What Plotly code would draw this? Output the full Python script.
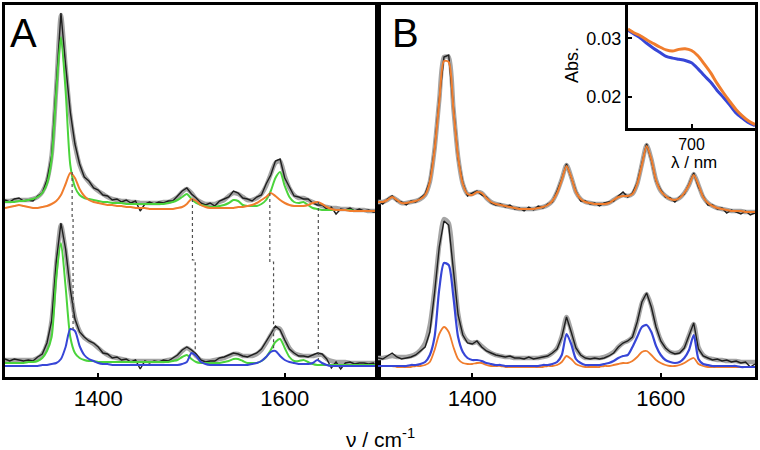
import plotly.graph_objects as go

# ---------------- data ----------------
# Raman shift grid (cm^-1), both panels
wavenumber = list(range(1300, 1701, 5))

# Panel A, upper spectrum (intensity in arbitrary units, offset stack)
a_top_fit = [176, 176, 177, 177, 177, 177, 178, 180, 185, 196,
             222, 290, 362, 310, 262, 232, 212, 201, 195, 190,
             186, 183, 180, 178, 177, 176, 176, 175, 175, 174,
             174, 174, 174, 174, 175, 175, 177, 180, 185, 188,
             184, 178, 175, 173, 173, 173, 175, 177, 181, 184,
             183, 180, 177, 177, 179, 183, 191, 203, 214, 216,
             201, 189, 182, 179, 179, 177, 175, 173, 171, 170,
             169, 169, 168, 168, 168, 167, 167, 167, 166, 166,
             166]
a_top_exp = [177, 175, 178, 179, 176, 177, 176, 181, 184, 197,
             221, 292, 364, 312, 265, 233, 213, 200, 196, 189,
             187, 182, 181, 177, 178, 175, 177, 174, 176, 166,
             173, 175, 173, 175, 174, 176, 176, 181, 186, 189,
             183, 179, 174, 172, 174, 171, 176, 178, 180, 186,
             184, 179, 178, 176, 180, 182, 193, 202, 216, 218,
             199, 190, 181, 180, 178, 178, 174, 172, 172, 168,
             170, 163, 168, 167, 169, 166, 168, 166, 167, 165,
             165]
a_top_green = [175, 175, 175, 176, 176, 177, 178, 180, 184, 193,
               218, 285, 340, 286, 212, 190, 182, 179, 178, 177,
               176, 175, 175, 174, 174, 174, 173, 173, 173, 173,
               173, 173, 173, 173, 173, 174, 175, 177, 180, 183,
               178, 174, 172, 171, 170, 170, 171, 172, 174, 177,
               176, 172, 171, 171, 171, 173, 177, 186, 199, 205,
               191, 180, 175, 174, 175, 172, 169, 168, 167, 167,
               167, 167, 167, 167, 167, 166, 166, 166, 166, 166,
               166]
a_top_orange = [169, 170, 171, 172, 171, 170, 169, 169, 170, 171,
                173, 176, 182, 193, 204, 199, 188, 181, 177, 175,
                174, 173, 172, 172, 171, 171, 170, 170, 169, 169,
                169, 168, 168, 168, 168, 168, 168, 169, 170, 173,
                178, 176, 172, 170, 169, 169, 169, 169, 169, 169,
                170, 170, 171, 172, 174, 177, 180, 184, 181, 177,
                174, 172, 171, 171, 171, 172, 174, 175, 173, 170,
                168, 167, 167, 167, 166, 166, 166, 166, 166, 166,
                166]

# Panel A, lower spectrum
a_bot_fit = [17, 17, 17, 17, 17, 17, 17, 19, 23, 33,
             57, 113, 152, 126, 88, 60, 46, 39, 36, 33,
             29, 25, 22, 20, 19, 18, 17, 16, 16, 16,
             16, 16, 16, 16, 16, 17, 18, 21, 26, 29,
             26, 21, 17, 16, 16, 17, 18, 19, 21, 23,
             23, 21, 21, 21, 23, 27, 34, 42, 49, 48,
             38, 29, 24, 22, 21, 21, 21, 22, 22, 18,
             16, 15, 15, 15, 14, 14, 14, 14, 14, 14,
             14]
a_bot_exp = [18, 16, 18, 17, 16, 17, 16, 20, 23, 34,
             56, 116, 154, 128, 88, 58, 45, 40, 36, 34,
             30, 24, 23, 19, 20, 17, 18, 15, 17, 8,
             16, 14, 16, 15, 17, 16, 19, 22, 27, 30,
             27, 23, 17, 15, 16, 16, 19, 20, 22, 24,
             23, 21, 20, 22, 24, 28, 35, 43, 51, 47,
             37, 28, 24, 21, 21, 20, 22, 24, 23, 18,
             9, 15, 8, 14, 15, 13, 14, 14, 13, 14,
             8]
a_bot_green = [14, 14, 14, 14, 14, 15, 15, 16, 19, 26,
               40, 100, 134, 90, 40, 24, 19, 17, 16, 16,
               15, 15, 15, 15, 15, 15, 15, 15, 15, 15,
               15, 15, 15, 15, 15, 15, 16, 17, 20, 22,
               18, 15, 14, 14, 14, 14, 14, 15, 16, 18,
               18, 16, 14, 14, 14, 16, 20, 27, 35, 38,
               29, 20, 16, 16, 17, 15, 13, 12, 12, 12,
               12, 12, 12, 12, 12, 12, 12, 12, 12, 12,
               12]
a_bot_blue = [11, 11, 11, 11, 11, 11, 11, 11, 12, 12,
              13, 14, 18, 30, 48, 46, 31, 22, 18, 16,
              14, 13, 13, 12, 12, 12, 12, 12, 12, 12,
              12, 12, 12, 12, 12, 12, 12, 12, 13, 15,
              24, 21, 15, 13, 12, 12, 12, 12, 12, 12,
              12, 12, 12, 13, 14, 16, 20, 25, 26, 21,
              17, 15, 14, 13, 13, 13, 14, 17, 14, 12,
              11, 11, 11, 11, 11, 11, 11, 11, 11, 11,
              11]

# Panel A, dotted correlation lines (band positions, upper -> lower)
link_top_nu = [1372, 1501, 1584, 1636]
link_bot_nu = [1373, 1504, 1588, 1636]
link_top_val = [205, 178, 184, 175]
link_step_val = [160, 117, 115, 100]
link_bot_val = [48, 24, 26, 17]

# Panel B, upper spectrum
b_top_fit = [175, 175, 177, 180, 177, 174, 174, 175, 176, 178,
             182, 195, 228, 277, 320, 320, 269, 220, 193, 183,
             183, 185, 184, 179, 175, 173, 172, 171, 170, 169,
             168, 168, 168, 168, 169, 170, 172, 176, 185, 198,
             212, 200, 185, 178, 175, 174, 173, 173, 173, 174,
             177, 180, 182, 181, 183, 193, 213, 232, 218, 197,
             186, 181, 178, 177, 179, 184, 192, 203, 192, 180,
             174, 171, 169, 168, 167, 166, 166, 166, 165, 165,
             165]
b_top_exp = [176, 173, 178, 181, 176, 175, 172, 176, 175, 179,
             183, 196, 228, 278, 320, 322, 270, 218, 194, 181,
             184, 186, 182, 180, 174, 172, 173, 170, 172, 168,
             169, 166, 170, 167, 171, 169, 173, 175, 186, 198,
             213, 199, 186, 176, 176, 173, 174, 171, 174, 175,
             176, 181, 185, 180, 184, 194, 214, 233, 217, 196,
             187, 180, 179, 175, 180, 183, 193, 204, 190, 181,
             172, 172, 168, 169, 164, 167, 165, 163, 166, 162,
             164]
b_top_orange = [175, 175, 177, 180, 177, 174, 174, 175, 176, 178,
                182, 195, 227, 275, 316, 315, 268, 220, 193, 183,
                182, 185, 184, 179, 175, 173, 172, 171, 170, 169,
                168, 168, 168, 168, 169, 170, 172, 176, 184, 197,
                211, 200, 185, 178, 175, 174, 173, 173, 173, 174,
                177, 180, 181, 181, 183, 193, 212, 231, 218, 197,
                186, 181, 178, 177, 179, 184, 192, 202, 192, 180,
                174, 171, 169, 168, 167, 166, 166, 166, 165, 165,
                165]

# Panel B, lower spectrum
b_bot_fit = [19, 19, 20, 21, 20, 20, 20, 21, 23, 27,
             34, 52, 88, 132, 158, 154, 112, 64, 43, 36,
             34, 35, 31, 27, 24, 22, 21, 20, 20, 19,
             19, 19, 19, 19, 19, 20, 21, 24, 29, 41,
             60, 46, 29, 22, 19, 19, 19, 19, 20, 22,
             25, 30, 34, 36, 40, 55, 74, 83, 71, 51,
             37, 29, 25, 24, 25, 30, 42, 53, 30, 22,
             19, 18, 17, 17, 16, 16, 16, 15, 15, 15,
             15]
b_bot_exp = [19, 18, 21, 24, 20, 18, 19, 20, 22, 26,
             30, 45, 84, 130, 156, 152, 108, 62, 42, 34,
             33, 36, 30, 26, 24, 22, 21, 20, 21, 19,
             19, 18, 20, 18, 19, 20, 21, 24, 28, 40,
             60, 45, 29, 22, 19, 18, 19, 18, 19, 21,
             24, 30, 34, 36, 40, 55, 75, 84, 70, 50,
             36, 29, 25, 23, 24, 29, 42, 54, 28, 21,
             19, 17, 18, 16, 17, 15, 16, 14, 15, 10,
             13]
b_bot_blue = [11, 11, 11, 11, 11, 11, 11, 12, 12, 13,
              15, 22, 40, 88, 114, 112, 80, 40, 25, 19,
              17, 17, 16, 14, 13, 12, 12, 11, 11, 11,
              11, 11, 11, 11, 11, 12, 12, 13, 15, 22,
              43, 33, 18, 14, 12, 12, 12, 12, 13, 14,
              16, 19, 21, 22, 30, 40, 50, 52, 45, 31,
              22, 17, 15, 14, 15, 19, 27, 42, 18, 13,
              12, 11, 11, 11, 11, 11, 11, 10, 10, 10,
              10]
b_bot_orange = [10, 11, 11, 11, 10, 10, 10, 10, 11, 11,
                12, 15, 27, 43, 50, 45, 30, 18, 14, 13,
                13, 14, 14, 12, 11, 11, 11, 10, 10, 10,
                10, 10, 10, 10, 10, 10, 11, 11, 12, 15,
                21, 18, 13, 11, 10, 10, 10, 10, 11, 11,
                12, 13, 14, 14, 16, 20, 25, 26, 22, 17,
                14, 12, 11, 11, 12, 14, 17, 19, 13, 11,
                10, 10, 10, 10, 10, 10, 10, 10, 10, 10,
                10]

# Inset: absorption spectra
wavelength = list(range(600, 801, 10))
abs_orange = [0.0316, 0.0309, 0.0304, 0.0297, 0.0291, 0.0285, 0.0280, 0.0278, 0.0281, 0.0282,
              0.0279, 0.0270, 0.0256, 0.0241, 0.0223, 0.0207, 0.0192, 0.0178, 0.0167, 0.0158,
              0.0152]
abs_blue = [0.0314, 0.0307, 0.0300, 0.0291, 0.0283, 0.0276, 0.0269, 0.0266, 0.0264, 0.0262,
            0.0258, 0.0248, 0.0236, 0.0225, 0.0211, 0.0199, 0.0186, 0.0172, 0.0163, 0.0155,
            0.0150]

x_ticks = [1400, 1600]
inset_x_ticks = [700]
inset_y_ticks = [0.02, 0.03]

# ---------------- styling ----------------
W, H = 760, 450
FONT = "Liberation Sans, Arial, sans-serif"
GREY = "rgb(165,165,165)"
BLACK = "rgb(30,30,30)"
GREEN = "rgb(75,212,60)"
ORANGE = "rgb(240,125,45)"
BLUE = "rgb(55,70,215)"


def fx(p):
    return p / W


def fy(p):
    return 1 - p / H


fig = go.Figure()


def line(x, y, color, width, xa, ya, shape="spline", dash=None):
    fig.add_trace(go.Scatter(
        x=x, y=y, mode="lines",
        line=dict(color=color, width=width, shape=shape, dash=dash,
                  smoothing=0.7 if shape == "spline" else None),
        xaxis=xa, yaxis=ya, showlegend=False, hoverinfo="skip"))


# Panel A
for fit, exp, comps in [
    (a_top_fit, a_top_exp, [(a_top_green, GREEN), (a_top_orange, ORANGE)]),
    (a_bot_fit, a_bot_exp, [(a_bot_green, GREEN), (a_bot_blue, BLUE)]),
]:
    line(wavenumber, fit, GREY, 4.5, "x", "y")
    line(wavenumber, exp, BLACK, 1.4, "x", "y", shape="linear")
    for c, col in comps:
        line(wavenumber, c, col, 2, "x", "y")

for t, b, tv, sv, bv in zip(link_top_nu, link_bot_nu, link_top_val, link_step_val, link_bot_val):
    line([t, t, b, b], [tv, sv, sv, bv], "rgb(80,80,80)", 1.2, "x", "y",
         shape="linear", dash="dot")

# Panel B
line(wavenumber, b_top_fit, GREY, 4.5, "x2", "y2")
line(wavenumber, b_top_exp, BLACK, 1.4, "x2", "y2", shape="linear")
line(wavenumber, b_top_orange, ORANGE, 2, "x2", "y2")
line(wavenumber, b_bot_fit, GREY, 4.5, "x2", "y2")
line(wavenumber, b_bot_exp, BLACK, 1.4, "x2", "y2", shape="linear")
line(wavenumber, b_bot_orange, ORANGE, 1.8, "x2", "y2")
line(wavenumber, b_bot_blue, BLUE, 2.2, "x2", "y2")

# Inset
line(wavelength, abs_blue, BLUE, 3, "x3", "y3")
line(wavelength, abs_orange, ORANGE, 3, "x3", "y3")

frame = dict(showline=True, linecolor="black", linewidth=3, mirror=True,
             showgrid=False, zeroline=False, automargin=False)
tickfont = dict(family=FONT, size=22, color="black")
inset_font = dict(family=FONT, size=16, color="black")

fig.update_layout(
    template="none",
    width=W, height=H,
    margin=dict(l=0, r=0, t=0, b=0, autoexpand=False),
    paper_bgcolor="white", plot_bgcolor="white",
    showlegend=False,
    xaxis=dict(domain=[fx(5), fx(378)], range=[1300, 1700], tickvals=x_ticks,
               ticks="inside", ticklen=4, tickwidth=2, tickcolor="black",
               tickfont=tickfont, anchor="y", **frame),
    yaxis=dict(domain=[fy(377), fy(5)], range=[0, 372], showticklabels=False,
               ticks="", anchor="x", **frame),
    xaxis2=dict(domain=[fx(378), fx(755)], range=[1300, 1700], tickvals=x_ticks,
                ticks="inside", ticklen=4, tickwidth=2, tickcolor="black",
                tickfont=tickfont, anchor="y2", **frame),
    yaxis2=dict(domain=[fy(377), fy(5)], range=[0, 372], tickvals=[9, 167],
                showticklabels=False, ticks="inside", ticklen=3, tickwidth=2,
                tickcolor="black", anchor="x2", **frame),
    xaxis3=dict(domain=[fx(628), fx(755)], range=[600, 800], tickvals=inset_x_ticks,
                ticks="inside", ticklen=4, tickwidth=2, tickcolor="black",
                tickfont=inset_font, anchor="y3", **frame),
    yaxis3=dict(domain=[fy(128), fy(5)], range=[0.01461, 0.03571], tickvals=inset_y_ticks,
                ticktext=["0.02", "0.03"],
                ticks="inside", ticklen=4, tickwidth=2, tickcolor="black",
                tickfont=dict(family=FONT, size=18, color="black"), anchor="x3", **frame),
)

ann_font = dict(family=FONT, color="black")
fig.add_annotation(x=fx(8), y=fy(33), xref="paper", yref="paper", text="A",
                   showarrow=False, xanchor="left", yanchor="middle",
                   font=dict(size=40, **ann_font))
fig.add_annotation(x=fx(390), y=fy(33), xref="paper", yref="paper", text="B",
                   showarrow=False, xanchor="left", yanchor="middle",
                   font=dict(size=40, **ann_font))
fig.add_annotation(x=fx(380), y=fy(438), xref="paper", yref="paper",
                   text="ν / cm<sup>-1</sup>", showarrow=False,
                   xanchor="center", yanchor="middle", font=dict(size=21, **ann_font))
fig.add_annotation(x=fx(572), y=fy(65), xref="paper", yref="paper", text="Abs.",
                   showarrow=False, textangle=-90, xanchor="center", yanchor="middle",
                   font=dict(size=18, **ann_font))
fig.add_annotation(x=fx(694), y=fy(162), xref="paper", yref="paper", text="λ / nm",
                   showarrow=False, xanchor="center", yanchor="middle",
                   font=dict(size=17, **ann_font))

fig.write_html("out.html", config={"displayModeBar": False}, post_script=[
    "document.body.style.margin='0';document.body.style.overflow='hidden';"])
